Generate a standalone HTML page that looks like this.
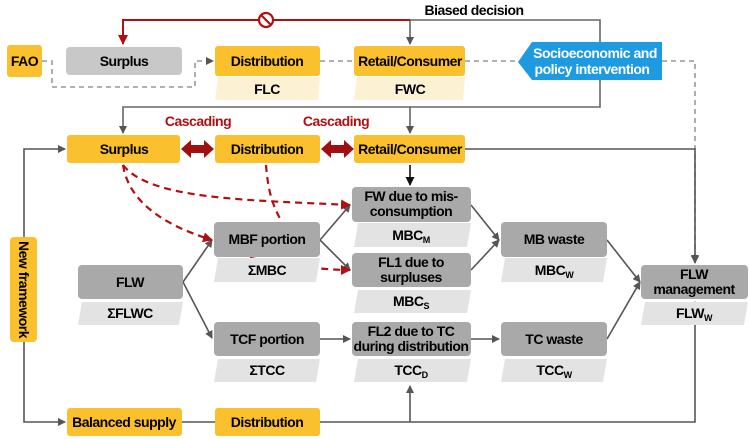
<!DOCTYPE html>
<html><head><meta charset="utf-8"><style>
body{margin:0;background:#fff}
svg{display:block}
text{font-family:"Liberation Sans",sans-serif;font-weight:bold;font-size:14px;text-anchor:middle;letter-spacing:-0.5px}
</style></head><body>
<svg width="750" height="439" viewBox="0 0 750 439" xmlns="http://www.w3.org/2000/svg">
<defs>
<marker id="ag" markerWidth="8" markerHeight="8" refX="7" refY="4" orient="auto" markerUnits="userSpaceOnUse"><path d="M0,0 L8,4 L0,8 z" fill="#555"/></marker>
<marker id="ak" markerWidth="9" markerHeight="9" refX="8" refY="4.5" orient="auto" markerUnits="userSpaceOnUse"><path d="M0,0 L9,4.5 L0,9 z" fill="#111"/></marker>
<marker id="ar" markerWidth="10" markerHeight="10" refX="9" refY="5" orient="auto" markerUnits="userSpaceOnUse"><path d="M0,0 L10,5 L0,10 z" fill="#b01010"/></marker>
</defs>
<g fill="none" stroke-width="1.6">
<path d="M410,20 H600 V107 H123 V133" stroke="#666" marker-end="url(#ag)"/>
<path d="M410,107 V133" stroke="#666" marker-end="url(#ag)"/>
<path d="M410,20 V44" stroke="#666" marker-end="url(#ag)"/>
<path d="M410,20 H123 V44" stroke="#b01010" stroke-width="2" marker-end="url(#ar)"/>
<path d="M42,61 H52 V87 H195 V61 H213" stroke="#999" stroke-dasharray="5,4" marker-end="url(#ag)"/>
<path d="M320,61 H354 M465,61 H520 M662,61 H695 V262" stroke="#999" stroke-dasharray="5,4"/>
<path d="M695,255 V263" stroke="#666" marker-end="url(#ag)"/>
<path d="M24,240 V149 H65" stroke="#555" marker-end="url(#ag)"/>
<path d="M24,340 V422 H65" stroke="#555" marker-end="url(#ag)"/>
<path d="M182,422 H215" stroke="#555"/>
<path d="M320,422 H695 V302" stroke="#555" marker-end="url(#ag)"/>
<path d="M410,422 V386" stroke="#555" marker-end="url(#ag)"/>
<path d="M465,149 H695 V262" stroke="#555" marker-end="url(#ag)"/>
<path d="M410,165 V185" stroke="#111" marker-end="url(#ak)"/>
<path d="M183,282 L212,240" stroke="#555" marker-end="url(#ag)"/>
<path d="M183,282 L212,338" stroke="#555" marker-end="url(#ag)"/>
<path d="M320,240 L350,205" stroke="#555" marker-end="url(#ag)"/>
<path d="M320,240 L350,270" stroke="#555" marker-end="url(#ag)"/>
<path d="M320,339 H350" stroke="#555" marker-end="url(#ag)"/>
<path d="M471,339 H499" stroke="#555" marker-end="url(#ag)"/>
<path d="M471,205 L499,240" stroke="#555" marker-end="url(#ag)"/>
<path d="M471,270 L499,240" stroke="#555" marker-end="url(#ag)"/>
<path d="M607,240 L640,282" stroke="#555" marker-end="url(#ag)"/>
<path d="M607,339 L640,282" stroke="#555" marker-end="url(#ag)"/>
<g stroke="#b01010" stroke-width="2.2" stroke-dasharray="7,5">
<path d="M123,165 C150,200 250,200 350,205" marker-end="url(#ar)"/>
<path d="M123,165 C130,210 180,230 212,240" marker-end="url(#ar)"/>
<path d="M266,165 C268,190 272,205 282,222"/>
<path d="M250,258 C290,265 320,270 350,270" marker-end="url(#ar)"/>
</g>
</g>
<g fill="#a01010">
<path d="M181,149 L191,140 V145 H204 V140 L214,149 L204,158 V153 H191 V158 z"/>
<path d="M321,149 L331,140 V145 H344 V140 L354,149 L344,158 V153 H331 V158 z"/>
</g>
<circle cx="266" cy="20" r="7" fill="#fff" stroke="#b01010" stroke-width="2.2"/>
<line x1="261" y1="15" x2="271" y2="25" stroke="#b01010" stroke-width="2.2"/>
<text x="474" y="15">Biased decision</text>
<text x="198" y="126" fill="#b01010">Cascading</text>
<text x="336" y="126" fill="#b01010">Cascading</text>
<rect x="7" y="45" width="35" height="32" rx="3" fill="#fbc02d"/><text x="24.5" y="66">FAO</text>
<rect x="66" y="47" width="116" height="28" rx="4" fill="#c8c8c8"/><text x="124" y="66">Surplus</text>
<polygon points="218,77 320,77 318,100 215,100" fill="#fdf1d3"/><text x="267" y="94">FLC</text>
<rect x="215" y="46" width="105" height="30" rx="3" fill="#fbc02d"/><text x="267" y="66">Distribution</text>
<polygon points="357,77 465,77 463,100 354,100" fill="#fdf1d3"/><text x="410" y="94">FWC</text>
<rect x="354" y="46" width="111" height="30" rx="3" fill="#fbc02d"/><text x="410" y="66">Retail/Consumer</text>
<polygon points="518,62 532,42 662,42 662,80 532,80" fill="#1e9be0"/>
<text x="595" y="58" fill="#fff" font-weight="normal">Socioeconomic and</text>
<text x="592" y="74" fill="#fff" font-weight="normal">policy intervention</text>
<rect x="67" y="135" width="113" height="28" rx="3" fill="#fbc02d"/><text x="124" y="154">Surplus</text>
<rect x="215" y="135" width="105" height="28" rx="3" fill="#fbc02d"/><text x="267" y="154">Distribution</text>
<rect x="354" y="135" width="111" height="28" rx="3" fill="#fbc02d"/><text x="410" y="154">Retail/Consumer</text>
<g fill="#e3e3e3">
<polygon points="358,223 471,223 467,247 354,247"/>
<polygon points="218,258 320,258 316,282 214,282"/>
<polygon points="358,290 471,290 467,313 354,313"/>
<polygon points="82,302 183,302 179,325 78,325"/>
<polygon points="218,359 320,359 316,382 214,382"/>
<polygon points="358,359 471,359 467,382 354,382"/>
<polygon points="505,258 607,258 603,282 501,282"/>
<polygon points="505,359 607,359 603,382 501,382"/>
<polygon points="645,302 748,302 744,325 641,325"/>
</g>
<g fill="#a9a9a9">
<rect x="352" y="187" width="119" height="35" rx="4"/>
<rect x="214" y="222" width="106" height="35" rx="4"/>
<rect x="352" y="253" width="119" height="34" rx="4"/>
<rect x="78" y="265" width="105" height="34" rx="4"/>
<rect x="214" y="322" width="106" height="34" rx="4"/>
<rect x="352" y="322" width="119" height="34" rx="4"/>
<rect x="501" y="222" width="106" height="35" rx="4"/>
<rect x="501" y="322" width="106" height="34" rx="4"/>
<rect x="641" y="265" width="107" height="34" rx="4"/>
</g>
<text x="411" y="201">FW due to mis-</text><text x="411" y="216">consumption</text>
<text x="411" y="240">MBC<tspan font-size="9" dy="3">M</tspan></text>
<text x="267" y="244">MBF portion</text>
<text x="267" y="275">ΣMBC</text>
<text x="411" y="267">FL1 due to</text><text x="411" y="282">surpluses</text>
<text x="411" y="306">MBC<tspan font-size="9" dy="3">S</tspan></text>
<text x="130" y="287">FLW</text>
<text x="130" y="318">ΣFLWC</text>
<text x="267" y="344">TCF portion</text>
<text x="267" y="375">ΣTCC</text>
<text x="411" y="336">FL2 due to TC</text><text x="411" y="351">during distribution</text>
<text x="411" y="375">TCC<tspan font-size="9" dy="3">D</tspan></text>
<text x="554" y="244">MB waste</text>
<text x="554" y="275">MBC<tspan font-size="9" dy="3">W</tspan></text>
<text x="554" y="344">TC waste</text>
<text x="554" y="375">TCC<tspan font-size="9" dy="3">W</tspan></text>
<text x="694" y="279">FLW</text><text x="694" y="294">management</text>
<text x="694" y="318">FLW<tspan font-size="9" dy="3">W</tspan></text>
<rect x="10" y="237" width="27" height="105" rx="4" fill="#fbc02d"/>
<text transform="translate(19,289.5) rotate(90)">New framework</text>
<rect x="67" y="408" width="115" height="28" rx="3" fill="#fbc02d"/><text x="124" y="427">Balanced supply</text>
<rect x="215" y="408" width="105" height="28" rx="3" fill="#fbc02d"/><text x="267" y="427">Distribution</text>
</svg>
</body></html>
